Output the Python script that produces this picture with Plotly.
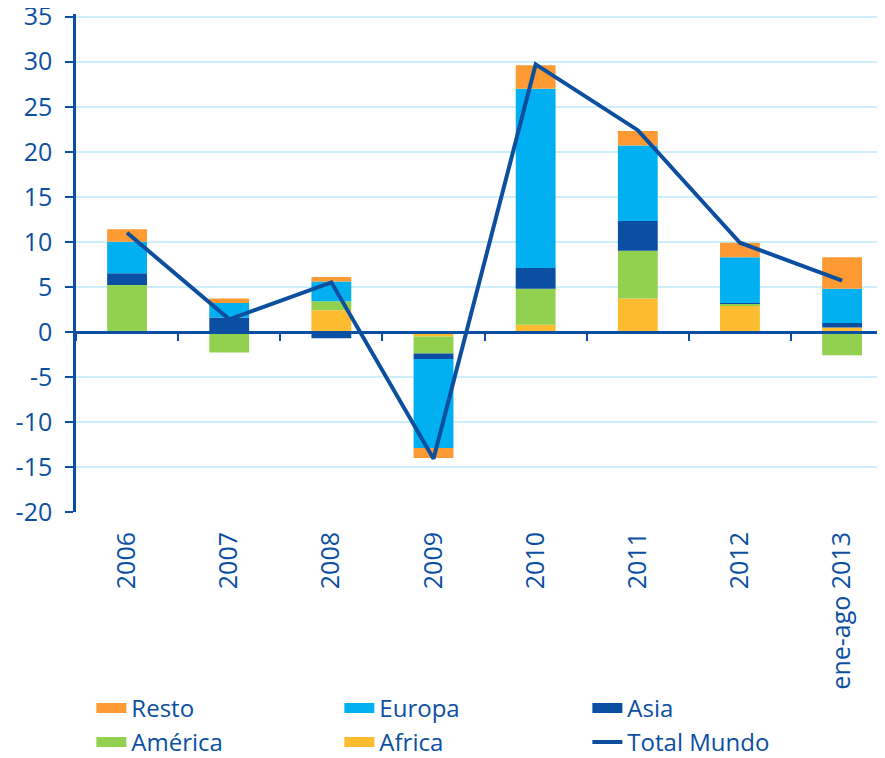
import plotly.graph_objects as go

categories = ["2006", "2007", "2008", "2009", "2010", "2011", "2012", "ene-ago 2013"]
africa  = [-0.2, 0.0, 2.4, -0.5, 0.8, 3.7, 2.9, 0.5]
america = [5.2, -2.3, 1.0, -1.9, 4.0, 5.3, 0.2, -2.6]
asia    = [1.3, 1.6, -0.7, -0.6, 2.3, 3.3, 0.1, 0.5]
europa  = [3.5, 1.6, 2.2, -9.9, 19.9, 8.4, 5.1, 3.8]
resto   = [1.4, 0.5, 0.5, -1.1, 2.6, 1.6, 1.6, 3.5]
total_mundo = [11.0, 1.4, 5.5, -14.1, 29.7, 22.4, 9.9, 5.7]
y_tickvals = [-20, -15, -10, -5, 0, 5, 10, 15, 20, 25, 30, 35]
y_ticktext = ["-20", "-15", "-10", "-5", "0", "5", "10", "15", "20", "25", "30", "35"]

C_TEXT = "#0b4fa3"
C_RESTO = "#fd9a34"
C_EUROPA = "#00b0f0"
C_ASIA = "#0b4fa3"
C_AMERICA = "#92d050"
C_AFRICA = "#fdbb2f"
C_GRID = "#cdeefc"
FONT = "Open Sans"
FS = 25
Y_MIN, Y_MAX = -20, 35.3

fig = go.Figure()
series = [
    ("Africa", africa, C_AFRICA, 5),
    ("América", america, C_AMERICA, 4),
    ("Asia", asia, C_ASIA, 3),
    ("Europa", europa, C_EUROPA, 2),
    ("Resto", resto, C_RESTO, 1),
]
for name, vals, col, rank in series:
    fig.add_trace(go.Bar(x=categories, y=vals, name=name, marker=dict(color=col, line=dict(width=0)),
                         showlegend=False))
    # legend swatch as wide band
    fig.add_trace(go.Scatter(x=[None], y=[None], name=name, mode="lines",
                             line=dict(color=col, width=14), legendrank=rank, hoverinfo="skip"))
fig.add_trace(go.Scatter(x=categories, y=total_mundo, name="Total Mundo", mode="lines",
                         line=dict(color="#0d4f9f", width=4), legendrank=6))

# axis crossing at zero (category boundary ticks)
fig.add_trace(go.Scatter(x=categories, y=[None]*len(categories), xaxis="x2", showlegend=False,
                         hoverinfo="skip"))

fig.update_layout(
    width=885, height=758,
    margin=dict(l=68, r=8, t=6, b=254, autoexpand=False),
    paper_bgcolor="white", plot_bgcolor="white",
    barmode="relative", bargap=0.61,
    font=dict(family=FONT, color=C_TEXT, size=FS),
    showlegend=True,
    legend=dict(orientation="h", x=0.019, xanchor="left", y=-0.349, yanchor="top",
                entrywidth=203, entrywidthmode="pixels", traceorder="normal",
                font=dict(size=24, color=C_TEXT, family=FONT), itemwidth=30,
                tracegroupgap=0),
    xaxis=dict(type="category", range=[-0.5, 7.42], showline=False, ticks="",
               showgrid=False, zeroline=False, tickangle=-90, automargin=False,
               ticklabelstandoff=14,
               tickfont=dict(size=FS, color=C_TEXT, family=FONT)),
    xaxis2=dict(type="category", overlaying="x", matches="x", anchor="free",
                position=(0 - Y_MIN) / (Y_MAX - Y_MIN), side="bottom", showline=True,
                linecolor=C_TEXT, linewidth=3,
                ticks="outside", tickson="boundaries", ticklen=7, tickwidth=2, tickcolor=C_TEXT,
                showticklabels=False, showgrid=False, zeroline=False),
    yaxis=dict(range=[Y_MIN, Y_MAX], tickmode="array", tickvals=y_tickvals, ticktext=y_ticktext,
               showline=True, linecolor=C_TEXT, linewidth=2.5, automargin=False,
               ticks="outside", ticklen=8, tickwidth=2, tickcolor=C_TEXT, ticklabelstandoff=8,
               ticklabeloverflow="allow",
               showgrid=True, gridcolor=C_GRID, gridwidth=2, zeroline=False,
               tickfont=dict(size=FS, color=C_TEXT, family=FONT)),
)

fig.write_html("out.html")
